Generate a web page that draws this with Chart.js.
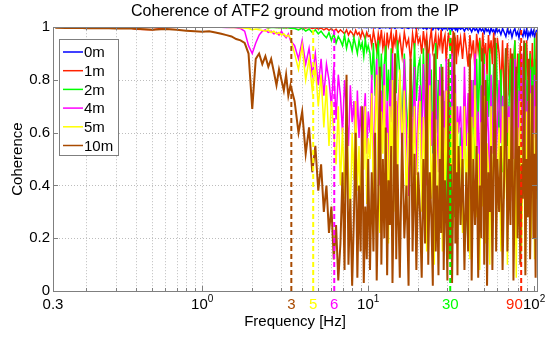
<!DOCTYPE html>
<html>
<head>
<meta charset="utf-8">
<script src="https://cdn.jsdelivr.net/npm/chart.js@4.4.0/dist/chart.umd.min.js"></script>
<style>
  html, body { margin: 0; padding: 0; background: #fff; }
  #wrap { width: 548px; height: 338px; }
</style>
</head>
<body>
<div id="wrap"><canvas id="chart" width="548" height="338"></canvas></div>
<script>
// coherence.js - coherence of ATF2 ground motion vs distance from the IP

// frequency bins [Hz]
const freqs = [
  0.13, 0.15, 0.18, 0.2, 0.25, 0.3, 0.35, 0.4, 0.5, 0.6, 0.7, 0.8, 0.9, 1.0,
  1.1, 1.2, 1.3, 1.4, 1.5, 1.6, 1.7, 1.8, 1.9, 2.0, 2.1, 2.2, 2.3, 2.4, 2.5, 2.6, 2.7, 2.8, 2.9, 3.0, 3.1, 3.2, 3.3, 3.4,
  3.6, 3.8, 4.0, 4.2, 4.4, 4.6, 4.8, 5.0, 5.2, 5.4, 5.6, 5.8, 6.0, 6.2, 6.4, 6.6, 6.8, 7.0, 7.2, 7.4, 7.6, 7.8, 8.0, 8.2, 8.4, 8.6, 8.8, 9.0, 9.2, 9.4, 9.6, 9.8, 10.0,
  10.25, 10.5, 10.75, 11, 11.25, 11.5, 11.75, 12, 12.25, 12.5, 12.75, 13, 13.25, 13.5, 13.75, 14, 14.25, 14.5, 14.75, 15,
  15.5, 16, 16.5, 17, 17.5, 18, 18.5, 19, 19.5, 20,
  20.5, 21, 21.5, 22, 22.5, 23, 23.5, 24, 24.5, 25, 25.5, 26, 26.5, 27, 27.5, 28, 28.5, 29, 29.5, 30, 30.5, 31, 31.5, 32, 32.5, 33, 33.5, 34, 34.5, 35,
  36, 37, 38, 39, 40, 41, 42, 43, 44, 45, 46, 47, 48, 49, 50, 51, 52, 53, 54, 55, 56, 57, 58, 59, 60,
  61.5, 63, 64.5, 66, 67.5, 69, 70.5, 72, 73.5, 75, 76.5, 78, 79.5, 81, 82.5, 84, 85.5, 87, 88.5, 90, 91.5, 93, 94.5, 96, 97.5, 99, 100.5, 102, 103.5
];

const coh0m = [
  1, 1, 1, 1, 1, 1, 1, 1, 1, 1, 1, 1, 1, 1,
  1, 1, 1, 1, 1, 1, 1, 1, 1, 1, 1, 1, 1, 1, 1, 1, 1, 1, 1, 1, 1, 1, 1, 1,
  1, 1, 1, 1, 1, 1, 1, 1, 1, 1, 1, 1, 1, 1, 1, 1, 1, 1, 1, 1, 0.999, 1, 1, 0.999, 1, 1, 0.998, 1, 1, 0.999, 1, 0.998, 1,
  1, 0.998, 1, 0.997, 1, 0.999, 0.996, 1, 0.998, 1, 0.997, 1, 0.999, 0.996, 1, 0.998, 1, 0.995, 1, 0.998,
  1, 0.996, 1, 0.998, 0.995, 1, 0.997, 1, 0.994, 1,
  0.997, 1, 0.994, 0.999, 0.992, 1, 0.996, 0.998, 0.99, 1, 0.995, 0.999, 0.991, 1, 0.996, 0.989, 0.999, 0.994, 1, 0.99, 0.997, 0.993, 1, 0.988, 0.996, 0.999, 0.99, 0.997, 0.986, 1,
  0.992, 0.998, 0.985, 1, 0.99, 0.996, 0.982, 0.999, 0.988, 0.995, 0.98, 0.998, 0.986, 0.994, 0.978, 0.997, 0.985, 0.992, 0.976, 0.998, 0.984, 0.99, 0.975, 0.996, 0.982,
  0.99, 0.972, 0.995, 0.98, 0.965, 0.992, 0.975, 0.988, 0.962, 0.985, 0.995, 0.97, 0.982, 0.96, 0.99, 0.975, 0.965, 0.988, 0.97, 0.992, 0.96, 0.98, 0.968, 0.99, 0.972, 0.985, 0.962, 0.978, 0.99
];

const coh1m = [
  1, 1, 1, 1, 1, 1, 1, 0.992, 0.99, 0.998, 1, 1, 1, 1,
  1, 1, 1, 1, 1, 1, 0.999, 1, 0.998, 1, 1, 0.999, 1, 1, 0.998, 1, 1, 0.999, 1, 0.998, 1, 0.997, 1, 0.998,
  0.999, 1, 0.998, 0.997, 1, 0.995, 0.998, 0.993, 0.997, 0.99, 0.996, 0.988, 0.995, 0.985, 0.993, 0.98, 0.99, 0.983, 0.975, 0.99, 0.97, 0.985, 0.978, 0.965, 0.988, 0.972, 0.98, 0.96, 0.985, 0.97, 0.955, 0.98, 0.965,
  0.97, 0.93, 0.985, 0.95, 0.91, 0.975, 0.94, 0.99, 0.92, 0.96, 0.88, 0.98, 0.93, 0.955, 0.985, 0.9, 0.96, 0.935, 0.99, 0.92,
  0.965, 0.89, 0.98, 0.93, 0.955, 0.87, 0.975, 0.92, 0.99, 0.94,
  0.96, 0.9, 0.985, 0.93, 0.97, 0.87, 0.95, 0.99, 0.91, 0.94, 0.975, 0.88, 0.96, 0.93, 0.99, 0.9, 0.95, 0.97, 0.87, 0.94, 0.98, 0.92, 0.96, 0.89, 0.985, 0.93, 0.95, 0.86, 0.97, 0.91,
  0.96, 0.88, 0.98, 0.92, 0.85, 0.97, 0.9, 0.95, 0.83, 0.975, 0.91, 0.96, 0.87, 0.98, 0.89, 0.94, 0.82, 0.97, 0.9, 0.95, 0.86, 0.98, 0.91, 0.84, 0.96,
  0.9, 0.76, 0.95, 0.7, 0.88, 0.94, 0.74, 0.92, 0.67, 0.86, 0.95, 0.72, 0.9, 0.8, 0.94, 0.66, 0.87, 0.93, 0.74, 0.95, 0.82, 0.69, 0.91, 0.77, 0.94, 0.71, 0.88, 0.8, 0.93
];

const coh2m = [
  1, 1, 1, 1, 1, 1, 1, 1, 1, 1, 1, 1, 1, 1,
  1, 1, 1, 1, 1, 1, 1, 1, 0.998, 1, 1, 0.999, 1, 1, 0.998, 1, 0.999, 1, 0.998, 1, 0.997, 1, 0.998, 0.996,
  0.995, 0.99, 0.997, 0.985, 0.993, 0.98, 0.99, 0.975, 0.985, 0.97, 0.96, 0.98, 0.95, 0.975, 0.94, 0.965, 0.95, 0.93, 0.97, 0.92, 0.955, 0.94, 0.91, 0.96, 0.93, 0.9, 0.95, 0.92, 0.94, 0.89, 0.955, 0.91, 0.93,
  0.9, 0.8, 0.94, 0.74, 0.88, 0.95, 0.76, 0.9, 0.7, 0.86, 0.93, 0.72, 0.84, 0.66, 0.92, 0.78, 0.7, 0.9, 0.75, 0.95,
  0.82, 0.62, 0.9, 0.7, 0.58, 0.88, 0.66, 0.94, 0.72, 0.85,
  0.88, 0.62, 0.92, 0.7, 0.55, 0.9, 0.66, 0.84, 0.52, 0.78, 0.94, 0.6, 0.8, 0.5, 0.86, 0.65, 0.42, 0.72, 0.3, 0.6, 0.22, 0.66, 0.35, 0.18, 0.55, 0.28, 0.7, 0.2, 0.5, 0.32,
  0.62, 0.25, 0.74, 0.38, 0.16, 0.58, 0.3, 0.8, 0.5, 0.88, 0.62, 0.95, 0.55, 0.76, 0.9, 0.48, 0.82, 0.66, 0.92, 0.52, 0.7, 0.86, 0.58, 0.94, 0.74,
  0.6, 0.84, 0.45, 0.75, 0.92, 0.55, 0.7, 0.88, 0.5, 0.8, 0.95, 0.62, 0.76, 0.9, 0.48, 0.72, 0.86, 0.58, 0.94, 0.66, 0.8, 0.52, 0.9, 0.7, 0.85, 0.6, 0.96, 0.68, 0.88
];

const coh4m = [
  1, 1, 1, 1, 1, 1, 1, 1, 1, 1, 1, 1, 1, 1,
  1, 1, 1, 0.999, 1, 0.998, 0.995, 0.985, 0.93, 0.9, 0.94, 0.97, 0.985, 0.99, 0.98, 0.985, 0.975, 0.98, 0.97, 0.985, 0.97, 0.96, 0.975, 0.95,
  0.93, 0.88, 0.95, 0.86, 0.92, 0.82, 0.9, 0.78, 0.88, 0.74, 0.86, 0.8, 0.7, 0.85, 0.65, 0.82, 0.74, 0.6, 0.8, 0.68, 0.55, 0.78, 0.64, 0.72, 0.5, 0.76, 0.58, 0.7, 0.48, 0.66, 0.75, 0.52, 0.68,
  0.6, 0.82, 0.45, 0.7, 0.88, 0.55, 0.4, 0.76, 0.62, 0.86, 0.5, 0.72, 0.42, 0.8, 0.64, 0.9, 0.52, 0.74, 0.38, 0.68,
  0.82, 0.5, 0.88, 0.6, 0.36, 0.76, 0.56, 0.85, 0.44, 0.7,
  0.78, 0.5, 0.86, 0.62, 0.4, 0.74, 0.9, 0.55, 0.68, 0.32, 0.8, 0.6, 0.45, 0.85, 0.7, 0.38, 0.76, 0.52, 0.88, 0.64, 0.42, 0.72, 0.58, 0.9, 0.48, 0.66, 0.82, 0.36, 0.7, 0.6,
  0.7, 0.45, 0.85, 0.55, 0.75, 0.35, 0.8, 0.62, 0.9, 0.5, 0.68, 0.4, 0.78, 0.58, 0.86, 0.44, 0.72, 0.6, 0.3, 0.82, 0.52, 0.7, 0.9, 0.48, 0.64,
  0.8, 0.56, 0.74, 0.4, 0.86, 0.6, 0.7, 0.34, 0.78, 0.5, 0.88, 0.62, 0.45, 0.76, 0.55, 0.9, 0.42, 0.68, 0.8, 0.5, 0.72, 0.38, 0.84, 0.6, 0.7, 0.46, 0.82, 0.58, 0.75
];

const coh5m = [
  1, 1, 1, 1, 1, 1, 1, 1, 1, 1, 1, 1, 1, 1,
  1, 1, 1, 1, 0.999, 1, 0.998, 0.997, 0.995, 0.99, 0.993, 0.99, 0.988, 0.985, 0.99, 0.98, 0.985, 0.975, 0.98, 0.97, 0.975, 0.965, 0.97, 0.96,
  0.9, 0.84, 0.93, 0.8, 0.88, 0.76, 0.85, 0.7, 0.82, 0.62, 0.78, 0.55, 0.72, 0.6, 0.48, 0.7, 0.4, 0.62, 0.35, 0.66, 0.45, 0.3, 0.6, 0.42, 0.72, 0.38, 0.55, 0.28, 0.64, 0.46, 0.7, 0.33, 0.58,
  0.5, 0.75, 0.32, 0.62, 0.82, 0.4, 0.22, 0.68, 0.52, 0.78, 0.36, 0.6, 0.18, 0.7, 0.45, 0.8, 0.3, 0.58, 0.72, 0.4,
  0.84, 0.55, 0.76, 0.3, 0.65, 0.85, 0.42, 0.7, 0.25, 0.6,
  0.72, 0.3, 0.66, 0.45, 0.15, 0.58, 0.78, 0.35, 0.52, 0.1, 0.65, 0.42, 0.22, 0.74, 0.48, 0.15, 0.62, 0.3, 0.76, 0.45, 0.12, 0.58, 0.36, 0.7, 0.24, 0.52, 0.75, 0.2, 0.64, 0.4,
  0.55, 0.22, 0.7, 0.38, 0.6, 0.12, 0.66, 0.42, 0.78, 0.28, 0.52, 0.08, 0.64, 0.32, 0.74, 0.18, 0.56, 0.46, 0.1, 0.7, 0.3, 0.52, 0.76, 0.22, 0.45,
  0.62, 0.15, 0.7, 0.35, 0.58, 0.1, 0.66, 0.4, 0.78, 0.25, 0.5, 0.05, 0.62, 0.3, 0.72, 0.15, 0.55, 0.45, 0.08, 0.68, 0.28, 0.5, 0.75, 0.2, 0.42, 0.6, 0.12, 0.7, 0.35
];

const coh10m = [
  0.998, 0.997, 0.998, 0.996, 0.997, 0.995, 0.996, 0.994, 0.99, 0.993, 0.99, 0.987, 0.985, 0.983,
  0.985, 0.98, 0.975, 0.97, 0.965, 0.955, 0.95, 0.94, 0.9, 0.69, 0.88, 0.9, 0.86, 0.89, 0.85, 0.88, 0.83, 0.78, 0.84, 0.8, 0.76, 0.82, 0.74, 0.78,
  0.72, 0.6, 0.68, 0.52, 0.62, 0.45, 0.55, 0.38, 0.48, 0.3, 0.4, 0.22, 0.32, 0.12, 0.25, 0.04, 0.18, 0.45, 0.08, 0.82, 0.1, 0.35, 0.02, 0.28, 0.6, 0.05, 0.4, 0.15, 0.7, 0.03, 0.32, 0.12, 0.5,
  0.08, 0.45, 0.15, 0.6, 0.04, 0.38, 0.85, 0.1, 0.5, 0.2, 0.62, 0.06, 0.42, 0.25, 0.55, 0.03, 0.35, 0.9, 0.12, 0.48,
  0.05, 0.6, 0.2, 0.4, 0.02, 0.88, 0.15, 0.52, 0.08, 0.45,
  0.3, 0.05, 0.5, 0.18, 0.95, 0.1, 0.45, 0.28, 0.02, 0.9, 0.15, 0.4, 0.06, 0.5, 0.22, 0.85, 0.08, 0.42, 0.3, 0.04, 0.88, 0.12, 0.48, 0.03, 0.36, 0.98, 0.18, 0.45, 0.06, 0.55,
  0.25, 0.5, 0.08, 0.45, 0.15, 0.9, 0.04, 0.5, 0.25, 0.55, 0.05, 0.4, 0.2, 0.92, 0.1, 0.8, 0.02, 0.45, 0.3, 0.55, 0.08, 0.48, 0.96, 0.15, 0.5,
  0.3, 0.55, 0.08, 0.45, 0.92, 0.15, 0.5, 0.25, 0.9, 0.04, 0.4, 0.85, 0.2, 0.55, 0.1, 0.48, 0.35, 0.95, 0.06, 0.5, 0.28, 0.88, 0.12, 0.42, 0.78, 0.2, 0.52, 0.05, 0.98
];

const seriesLabels = ['0m', '1m', '2m', '4m', '5m', '10m'];
const seriesValues = [coh0m, coh1m, coh2m, coh4m, coh5m, coh10m];
const seriesColors = ['#0000ff', '#ff2200', '#00ff00', '#ff00ff', '#ffff00', '#a84a00'];
const seriesWidths = [1.5, 1.5, 1.5, 1.5, 1.5, 2];

// coherence cut-off markers (dashed verticals)
const cutoffFreqs = [3.44, 4.66, 6.24, 31.2, 83.5];
const cutoffColors = ['#a84a00', '#ffff00', '#ff00ff', '#00ff00', '#ff2200'];

// x tick labels (the "0.3" label sits at the left edge of the axis, "90" just left of its line)
const xTickValues = [0.126, 1, 3.44, 4.66, 6.24, 10, 31.2, 76, 100];
const xTickLabels = ['0.3', '10^0', '3', '5', '6', '10^1', '30', '90', '10^2'];
const xTickColors = ['#000', '#000', '#a84a00', '#ffff00', '#ff00ff', '#000', '#00ff00', '#ff2200', '#000'];

const gridFreqs = [0.2, 0.3, 0.4, 0.5, 0.6, 0.7, 0.8, 0.9, 1, 2, 3, 4, 5, 6, 7, 8, 9, 10, 20, 30, 40, 50, 60, 70, 80, 90];
const majorFreqs = [1, 10, 100];
const yTickValues = [0, 0.2, 0.4, 0.6, 0.8, 1];

seriesValues.forEach((vals, i) => {
    if (vals.length !== freqs.length) console.log('length mismatch', seriesLabels[i], vals.length, freqs.length);
});

const FONT = '"Liberation Sans", Arial, sans-serif';
Chart.defaults.font.family = FONT;
Chart.defaults.font.size = 15;
Chart.defaults.color = '#000';

// dotted grid, box frame, inward ticks, power-of-ten labels and boxed legend, MATLAB style
const matlabFrame = {
    id: 'matlabFrame',
    beforeDatasetsDraw(chart) {
        const { ctx, chartArea: a, scales: { x, y } } = chart;
        ctx.save();
        ctx.strokeStyle = '#bdbdbd';
        ctx.lineWidth = 1;
        ctx.setLineDash([1, 2]);
        ctx.beginPath();
        gridFreqs.forEach(f => {
            const px = Math.round(x.getPixelForValue(f)) + 0.5;
            ctx.moveTo(px, a.top);
            ctx.lineTo(px, a.bottom);
        });
        yTickValues.slice(1, -1).forEach(v => {
            const py = Math.round(y.getPixelForValue(v)) + 0.5;
            ctx.moveTo(a.left, py);
            ctx.lineTo(a.right, py);
        });
        ctx.stroke();
        ctx.restore();
    },
    afterDatasetsDraw(chart) {
        const { ctx, chartArea: a, scales: { x, y } } = chart;
        ctx.save();
        ctx.strokeStyle = '#7f7f7f';
        ctx.lineWidth = 1;
        ctx.beginPath();
        // inward tick marks
        gridFreqs.concat(majorFreqs).forEach(f => {
            const px = Math.round(x.getPixelForValue(f)) + 0.5;
            const len = majorFreqs.includes(f) ? 5 : 3;
            ctx.moveTo(px, a.bottom); ctx.lineTo(px, a.bottom - len);
            ctx.moveTo(px, a.top); ctx.lineTo(px, a.top + len);
        });
        yTickValues.forEach(v => {
            const py = Math.round(y.getPixelForValue(v)) + 0.5;
            ctx.moveTo(a.left, py); ctx.lineTo(a.left + 5, py);
            ctx.moveTo(a.right, py); ctx.lineTo(a.right - 5, py);
        });
        ctx.stroke();
        ctx.strokeRect(Math.round(a.left) + 0.5, Math.round(a.top) + 0.5,
            Math.round(a.right - a.left), Math.round(a.bottom - a.top));

        // legend box
        const lx = 59, ly = 39, lw = 59, lh = 116;
        ctx.fillStyle = '#fff';
        ctx.fillRect(lx, ly, lw, lh);
        ctx.strokeRect(lx + 0.5, ly + 0.5, lw, lh);
        ctx.font = '15px ' + FONT;
        ctx.textBaseline = 'middle';
        ctx.textAlign = 'left';
        seriesLabels.forEach((label, i) => {
            const cy = ly + 13 + i * 18.7;
            ctx.strokeStyle = seriesColors[i];
            ctx.lineWidth = 1.5;
            ctx.beginPath();
            ctx.moveTo(lx + 4, cy); ctx.lineTo(lx + 24, cy);
            ctx.stroke();
            ctx.fillStyle = '#000';
            ctx.fillText(label, lx + 25, cy + 1);
        });
        ctx.restore();
    },
    afterDraw(chart) {
        // "10^n" tick labels with a raised exponent
        const { ctx, chartArea: a, scales: { x } } = chart;
        ctx.save();
        ctx.textBaseline = 'middle';
        xTickLabels.forEach((label, i) => {
            if (!label.includes('^')) return;
            const [base, exp] = label.split('^');
            const px = x.getPixelForValue(xTickValues[i]);
            ctx.fillStyle = xTickColors[i];
            ctx.font = '15px ' + FONT;
            ctx.textAlign = 'right';
            ctx.fillText(base, px + 5.5, a.bottom + 14);
            ctx.font = '10px ' + FONT;
            ctx.textAlign = 'left';
            ctx.fillText(exp, px + 5.5, a.bottom + 8);
        });
        ctx.restore();
    }
};

const datasets = seriesValues.map((vals, i) => ({
    label: seriesLabels[i],
    data: freqs.map((f, k) => ({ x: f, y: vals[k] })),
    borderColor: seriesColors[i],
    backgroundColor: seriesColors[i],
    borderWidth: seriesWidths[i],
    pointRadius: 0,
    tension: 0,
    order: 7 - i
}));

cutoffFreqs.forEach((f, i) => {
    datasets.push({
        label: 'cutoff ' + f,
        data: [{ x: f, y: 0 }, { x: f, y: 1 }],
        borderColor: cutoffColors[i],
        borderWidth: 2,
        borderDash: [5, 3],
        pointRadius: 0,
        order: 0
    });
});

const canvas = document.getElementById('chart');
try {
    new Chart(canvas, {
        type: 'line',
        data: { datasets },
        options: {
            responsive: false,
            animation: false,
            layout: { padding: { left: 0, right: 11, top: 0, bottom: 0 } },
            plugins: {
                legend: { display: false },
                tooltip: { enabled: false },
                title: {
                    display: true,
                    text: 'Coherence of ATF2 ground motion from the IP',
                    fullSize: false,
                    font: { size: 16, weight: 'normal' },
                    color: '#000',
                    padding: { top: 2, bottom: 6 }
                }
            },
            scales: {
                x: {
                    type: 'logarithmic',
                    min: 0.126,
                    max: 104,
                    grid: { display: false, drawTicks: false },
                    border: { display: false },
                    afterBuildTicks: scale => {
                        scale.ticks = xTickValues.map(v => ({ value: v }));
                    },
                    afterFit: scale => { scale.height = 47; },
                    ticks: {
                        autoSkip: false,
                        maxRotation: 0,
                        minRotation: 0,
                        padding: 5,
                        color: ctx => xTickColors[ctx.index],
                        // powers of ten are drawn by the plugin with a raised exponent
                        callback: (value, index) => xTickLabels[index].includes('^') ? '' : xTickLabels[index]
                    },
                    title: {
                        display: true,
                        text: 'Frequency [Hz]',
                        color: '#000',
                        padding: { top: 0, bottom: 7 }
                    }
                },
                y: {
                    min: 0,
                    max: 1,
                    grid: { display: false, drawTicks: false },
                    border: { display: false },
                    afterBuildTicks: scale => {
                        scale.ticks = yTickValues.map(v => ({ value: v }));
                    },
                    afterFit: scale => { scale.width = 53; },
                    ticks: {
                        padding: 3,
                        callback: value => String(value)
                    },
                    title: {
                        display: true,
                        text: 'Coherence',
                        color: '#000',
                        padding: { top: 9, bottom: 2 }
                    }
                }
            }
        },
        plugins: [matlabFrame]
    });
} catch (error) {
    console.error('Error rendering chart:', error);
}
</script>
</body>
</html>
